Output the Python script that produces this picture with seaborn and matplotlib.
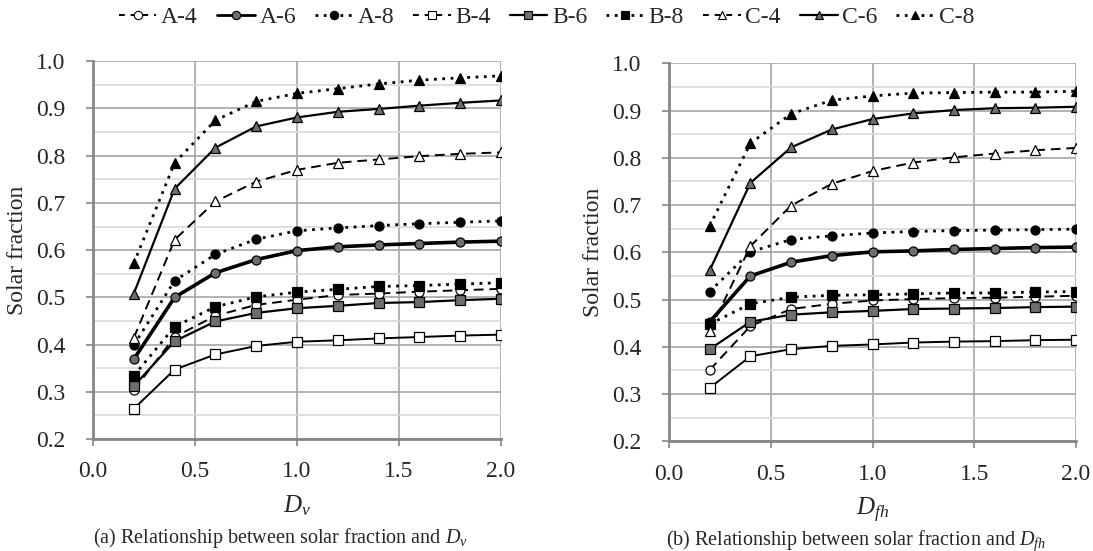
import pandas as pd
import matplotlib.pyplot as plt
import seaborn as sns
from matplotlib.lines import Line2D
from matplotlib.ticker import MultipleLocator

# ================ data ================
x_vals = [0.2, 0.4, 0.6, 0.8, 1.0, 1.2, 1.4, 1.6, 1.8, 2.0]
series_names = ['A-4', 'A-6', 'A-8', 'B-4', 'B-6', 'B-8', 'C-4', 'C-6', 'C-8']

# (a) solar fraction vs Dv
dv_a4 = [0.304, 0.416, 0.461, 0.484, 0.495, 0.505, 0.508, 0.512, 0.515, 0.518]
dv_a6 = [0.369, 0.500, 0.552, 0.580, 0.599, 0.607, 0.611, 0.614, 0.617, 0.619]
dv_a8 = [0.399, 0.535, 0.591, 0.623, 0.641, 0.647, 0.652, 0.656, 0.659, 0.662]
dv_b4 = [0.264, 0.347, 0.379, 0.397, 0.406, 0.409, 0.413, 0.416, 0.419, 0.421]
dv_b6 = [0.312, 0.407, 0.449, 0.467, 0.477, 0.482, 0.488, 0.490, 0.494, 0.497]
dv_b8 = [0.334, 0.438, 0.480, 0.501, 0.511, 0.517, 0.523, 0.525, 0.528, 0.531]
dv_c4 = [0.414, 0.622, 0.703, 0.745, 0.770, 0.785, 0.792, 0.799, 0.804, 0.807]
dv_c6 = [0.508, 0.730, 0.817, 0.862, 0.881, 0.893, 0.899, 0.906, 0.912, 0.917]
dv_c8 = [0.572, 0.785, 0.875, 0.915, 0.932, 0.942, 0.952, 0.960, 0.965, 0.969]

# (b) solar fraction vs Dfh
dfh_a4 = [0.351, 0.444, 0.480, 0.491, 0.498, 0.501, 0.503, 0.504, 0.506, 0.508]
dfh_a6 = [0.453, 0.550, 0.579, 0.593, 0.601, 0.603, 0.606, 0.608, 0.610, 0.611]
dfh_a8 = [0.517, 0.601, 0.627, 0.635, 0.641, 0.644, 0.646, 0.647, 0.648, 0.649]
dfh_b4 = [0.313, 0.380, 0.395, 0.402, 0.405, 0.409, 0.411, 0.412, 0.414, 0.415]
dfh_b6 = [0.395, 0.453, 0.468, 0.473, 0.476, 0.480, 0.481, 0.482, 0.484, 0.485]
dfh_b8 = [0.448, 0.491, 0.505, 0.509, 0.510, 0.512, 0.514, 0.514, 0.516, 0.517]
dfh_c4 = [0.434, 0.613, 0.699, 0.745, 0.772, 0.790, 0.801, 0.809, 0.816, 0.821]
dfh_c6 = [0.562, 0.747, 0.822, 0.860, 0.882, 0.894, 0.901, 0.905, 0.906, 0.908]
dfh_c8 = [0.656, 0.831, 0.893, 0.922, 0.931, 0.937, 0.938, 0.939, 0.939, 0.941]

dv_series = [dv_a4, dv_a6, dv_a8, dv_b4, dv_b6, dv_b8, dv_c4, dv_c6, dv_c8]
dfh_series = [dfh_a4, dfh_a6, dfh_a8, dfh_b4, dfh_b6, dfh_b8, dfh_c4, dfh_c6, dfh_c8]

# ================ styles ================
GREY = '#6e6e6e'
# name: (marker, facecolor, linestyle, linewidth, legend linestyle)
styles = {
    'A-4': ('o', 'white', (0, (5, 3)), 1.4, (0, (3, 3))),
    'A-6': ('o', GREY, '-', 2.6, '-'),
    'A-8': ('o', 'black', (0, (1, 2)), 2.0, (0, (1, 2))),
    'B-4': ('s', 'white', '-', 1.4, (0, (3, 3))),
    'B-6': ('s', GREY, '-', 1.6, '-'),
    'B-8': ('s', 'black', (0, (1, 2)), 2.0, (0, (1, 2))),
    'C-4': ('^', 'white', (0, (5, 3)), 1.4, (0, (3, 3))),
    'C-6': ('^', GREY, '-', 1.6, '-'),
    'C-8': ('^', 'black', (0, (1, 2)), 2.0, (0, (1, 2))),
}

sns.set_theme(style='white')
plt.rcParams['font.family'] = ['Liberation Serif', 'DejaVu Serif']
plt.rcParams['mathtext.fontset'] = 'custom'
plt.rcParams['mathtext.rm'] = 'Liberation Serif'
plt.rcParams['mathtext.it'] = 'Liberation Serif:italic'

fig = plt.figure(figsize=(10.93, 5.51), dpi=100)
ax1 = fig.add_axes([0.0851, 0.2033, 0.3733, 0.6855])
ax2 = fig.add_axes([0.6121, 0.1991, 0.3724, 0.686])

panels = [
    (ax1, dv_series, '$D_v$', '(a) Relationship between solar fraction and $D_v$'),
    (ax2, dfh_series, '$D_{fh}$', '(b) Relationship between solar fraction and $D_{fh}$'),
]

for ax, series, xlab, caption in panels:
    for name, vals in zip(series_names, series):
        mk, fc, ls, lw, _ = styles[name]
        sns.lineplot(x=x_vals, y=vals, ax=ax, color='black', linestyle=ls,
                     linewidth=lw, marker=mk, markersize=6.5 if mk != '^' else 7,
                     markerfacecolor=fc, markeredgecolor='black',
                     markeredgewidth=0.9, zorder=3)
    ax.set_xlim(0, 2.0)
    ax.set_ylim(0.2, 1.0)
    ax.xaxis.set_major_locator(MultipleLocator(0.5))
    ax.yaxis.set_major_locator(MultipleLocator(0.1))
    ax.yaxis.set_minor_locator(MultipleLocator(0.05))
    ax.xaxis.set_major_formatter(plt.FormatStrFormatter('%.1f'))
    ax.yaxis.set_major_formatter(plt.FormatStrFormatter('%.1f'))
    ax.grid(which='major', axis='both', color='#a6a6a6', linewidth=1.2, zorder=0)
    ax.grid(which='minor', axis='y', color='#d9d9d9', linewidth=1.2, zorder=0)
    ax.set_axisbelow(True)
    for side in ['top', 'right']:
        ax.spines[side].set_visible(False)
    for side in ['left', 'bottom']:
        ax.spines[side].set_color('#868686')
        ax.spines[side].set_linewidth(2)
    ax.tick_params(axis='both', which='major', direction='out', length=5,
                   width=1.2, color='#868686', labelsize=17,
                   left=True, bottom=True)
    ax.tick_params(axis='y', which='major', pad=15)
    ax.tick_params(axis='x', which='major', pad=11)
    ax.tick_params(axis='y', which='minor', left=False)
    ax.set_ylabel('Solar fraction', fontsize=17, labelpad=6)
    ax.set_xlabel(xlab, fontsize=18, labelpad=8)
    ax.text(0.46, -0.262, caption, transform=ax.transAxes, ha='center',
            va='center', fontsize=14.5)

# legend on top, built to look like the original
handles = []
for name in series_names:
    mk, fc, _, lw, lls = styles[name]
    handles.append(Line2D([], [], color='black', linestyle=lls,
                          linewidth=min(lw, 2.0), marker=mk, markersize=6,
                          markerfacecolor=fc, markeredgecolor='black',
                          markeredgewidth=0.8))
fig.legend(handles, series_names, loc='center', bbox_to_anchor=(0.5, 1 - 17 / 551),
           ncol=9, frameon=False, fontsize=17, handlelength=1.6,
           handletextpad=0.2, columnspacing=0.8)

plt.savefig('out.png', dpi=100)
